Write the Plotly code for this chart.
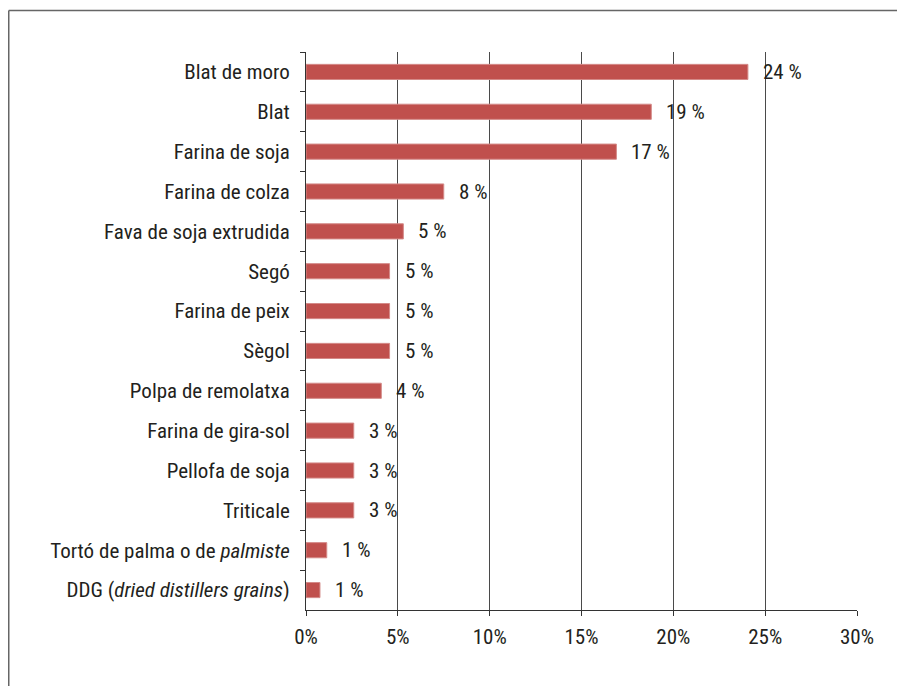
import plotly.graph_objects as go

categories = [
    "Blat de moro",
    "Blat",
    "Farina de soja",
    "Farina de colza",
    "Fava de soja extrudida",
    "Segó",
    "Farina de peix",
    "Sègol",
    "Polpa de remolatxa",
    "Farina de gira-sol",
    "Pellofa de soja",
    "Triticale",
    "Tortó de palma o de <i>palmiste</i>",
    "DDG (<i>dried distillers grains</i>)",
]
values = [24.06, 18.8, 16.9, 7.5, 5.3, 4.55, 4.55, 4.55, 4.1, 2.6, 2.6, 2.6, 1.13, 0.76]
value_labels = ["24 %", "19 %", "17 %", "8 %", "5 %", "5 %", "5 %", "5 %", "4 %",
                "3 %", "3 %", "3 %", "1 %", "1 %"]
x_ticks = [0, 5, 10, 15, 20, 25, 30]
x_tick_labels = ["0%", "5%", "10%", "15%", "20%", "25%", "30%"]

FONT = "Roboto Condensed, Liberation Sans, sans-serif"
TXT = "#231F20"
FS = 21
FW = 400

# page has an 8px body margin; coordinates below are figure coordinates
W, H = 897, 678
L, R, T, B = 298, 849, 44, 602


def px_x(p):
    return (p - L) / (R - L)


def px_y(p):
    return (B - p) / (B - T)


fig = go.Figure()
fig.add_trace(go.Bar(
    y=categories,
    x=values,
    orientation="h",
    marker=dict(color="#C0504D", line=dict(color="#D48A88", width=1)),
    hoverinfo="skip",
))

for cat, val, lab in zip(categories, values, value_labels):
    fig.add_annotation(
        x=val, y=cat, text=lab, showarrow=False,
        xanchor="left", yanchor="middle", xshift=13,
        font=dict(family=FONT, size=FS, color=TXT, weight=FW),
    )

fig.update_layout(
    width=W, height=H,
    margin=dict(l=L, r=W - R, t=T, b=H - B, pad=0),
    paper_bgcolor="white",
    plot_bgcolor="white",
    bargap=0.62,
    showlegend=False,
    font=dict(family=FONT, size=FS, color=TXT, weight=FW),
    xaxis=dict(
        range=[0, 30],
        tickvals=x_ticks,
        ticktext=x_tick_labels,
        showgrid=True,
        gridcolor="#4a4a4a",
        gridwidth=1,
        showline=True,
        linecolor="#333333",
        linewidth=1,
        ticks="outside",
        ticklen=5,
        tickcolor="#333333",
        ticklabelstandoff=3,
        zeroline=False,
        tickfont=dict(family=FONT, size=FS, color=TXT, weight=FW),
        fixedrange=True,
    ),
    yaxis=dict(
        autorange="reversed",
        showline=True,
        linecolor="#333333",
        linewidth=1,
        ticks="outside",
        tickson="boundaries",
        ticklen=5,
        tickcolor="#333333",
        showgrid=False,
        ticklabelstandoff=11,
        tickfont=dict(family=FONT, size=FS, color=TXT, weight=FW),
        fixedrange=True,
    ),
    shapes=[
        dict(type="line", xref="paper", yref="paper",
             x0=px_x(0.75), x1=px_x(0.75), y0=px_y(2.5), y1=px_y(700),
             line=dict(color="#666666", width=1.5)),
        dict(type="line", xref="paper", yref="paper",
             x0=px_x(0.75), x1=px_x(920), y0=px_y(2.5), y1=px_y(2.5),
             line=dict(color="#666666", width=1.5)),
    ],
)

fig.write_html("out.html")
